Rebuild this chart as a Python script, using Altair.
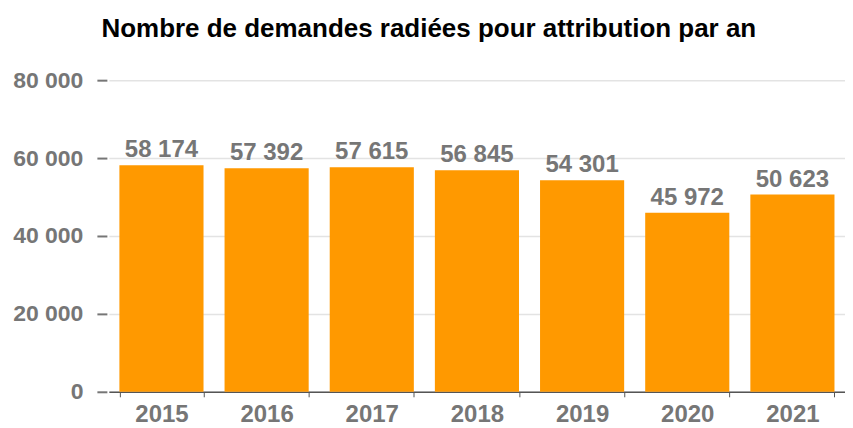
import altair as alt
import pandas as pd

years = ["2015", "2016", "2017", "2018", "2019", "2020", "2021"]
values = [58174, 57392, 57615, 56845, 54301, 45972, 50623]
y_ticks = [0, 20000, 40000, 60000, 80000]
title_text = "Nombre de demandes radiées pour attribution par an"


def fr(n):
    return f"{n:,}".replace(",", " ")


df = pd.DataFrame({"year": years, "value": values, "label": [fr(v) for v in values]})

FONT = "Liberation Sans"
GRAY = "#767676"

base = alt.Chart(df).encode(
    x=alt.X(
        "year:N",
        sort=years,
        scale=alt.Scale(paddingInner=0.2, paddingOuter=0.1),
        axis=alt.Axis(
            title=None,
            labelAngle=0,
            tickBand="extent",
            labelFont=FONT,
            labelFontSize=24,
            labelFontWeight="bold",
            labelColor=GRAY,
            labelPadding=6,
            tickSize=5,
            tickColor="#555555",
            domainColor="#555555",
            domainWidth=1.5,
            grid=False,
        ),
    ),
    y=alt.Y(
        "value:Q",
        scale=alt.Scale(domain=[0, 80000], nice=False),
        axis=alt.Axis(
            title=None,
            values=y_ticks,
            labelExpr="datum.value == 0 ? '0' : format(datum.value / 1000, 'd') + ' 000'",
            labelFont=FONT,
            labelFontSize=23,
            labelFontWeight="bold",
            labelColor=GRAY,
            labelPadding=14,
            domain=False,
            offset=2,
            tickSize=10,
            tickWidth=2,
            tickColor=GRAY,
            grid=True,
            gridColor="#e3e3e3",
            gridWidth=1.5,
        ),
    ),
)

bars = base.mark_bar(color="#FF9900")
text = base.mark_text(
    baseline="bottom",
    dy=-3,
    font=FONT,
    fontSize=24,
    fontWeight="bold",
    color=GRAY,
).encode(text="label:N")

chart = (
    alt.layer(bars, text)
    .properties(
        width=737,
        height=312,
        padding={"left": 4, "top": 8, "right": 0, "bottom": 0},
        title=alt.TitleParams(
            text=title_text,
            font=FONT,
            fontSize=26,
            fontWeight="bold",
            color="black",
            anchor="middle",
            frame="bounds",
            offset=27,
        ),
    )
    .configure_view(stroke=None)
)

chart.save("out.html", embed_options={"renderer": "svg", "actions": False})
